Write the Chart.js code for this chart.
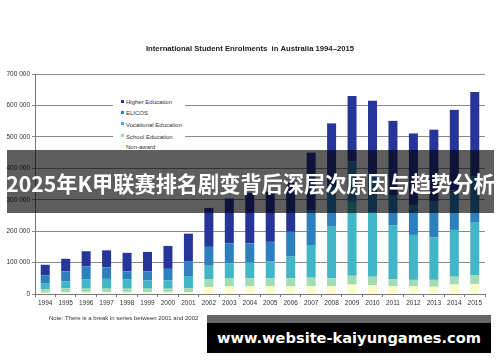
<!DOCTYPE html>
<html><head><meta charset="utf-8">
<script src="https://cdn.jsdelivr.net/npm/chart.js@4.4.1/dist/chart.umd.min.js"></script>
<style>
html,body{margin:0;padding:0;background:#fff;}
#wrap{position:relative;width:500px;height:362px;overflow:hidden;background:#fff;}
#c{position:absolute;left:0;top:0;}
#legend{position:absolute;left:113px;top:95px;width:72px;height:58px;background:#fff;font-family:"Liberation Sans",Arial,sans-serif;font-size:6px;color:#333;}
#legend .it{position:absolute;left:8px;height:8px;line-height:8px;white-space:nowrap;}
#legend .mk{display:inline-block;width:3px;height:3px;margin-right:2px;vertical-align:middle;position:relative;top:-1px;}
#note{position:absolute;left:49px;top:315px;font-family:"Liberation Sans",Arial,sans-serif;font-size:6px;color:#333;white-space:nowrap;}
#band{position:absolute;left:7px;top:150px;width:487px;height:63px;background:rgba(0,0,0,0.63);}
#bandtxt{position:absolute;left:0;top:150px;width:501px;height:66px;line-height:66px;text-align:center;color:#fff;font-family:"Noto Sans CJK SC",sans-serif;font-weight:bold;font-size:21.2px;white-space:nowrap;}
#urlgrey{position:absolute;left:207px;top:315px;width:284px;height:8px;background:#666;}
#url{position:absolute;left:207px;top:323px;width:284px;height:30px;background:#000;color:#fff;font-family:"DejaVu Sans",sans-serif;font-weight:bold;font-size:14.6px;line-height:30px;text-align:center;white-space:nowrap;}
</style></head>
<body><div id="wrap">
<canvas id="c" width="500" height="362"></canvas>
<div id="legend"></div>
<div id="note">Note: There is a break in series between 2001 and 2002</div>
<div id="band"></div>
<div id="bandtxt">2025年K甲联赛排名剧变背后深层次原因与趋势分析</div>
<div id="urlgrey"></div>
<div id="url">www.website-kaiyungames.com</div>
</div>
<script>
const years = ['1994','1995','1996','1997','1998','1999','2000','2001','2002','2003','2004','2005','2006','2007','2008','2009','2010','2011','2012','2013','2014','2015'];
// values in thousands of enrolments
const nonAward   = [4,5,5,5,5,5,5,5,22,24,24,24,24,25,25,30,28,25,24,23,30,32];
const school     = [12,13,12,12,12,12,12,13,25,27,26,26,26,27,25,28,27,22,21,22,25,28];
const vocational = [17,22,29,31,29,26,26,37,43,47,50,53,69,104,164,235,205,172,143,135,149,167];
const elicos     = [26,32,42,37,26,29,37,48,60,63,61,63,79,111,127,130,116,96,95,114,126,147];
const higher     = [34,40,48,54,59,62,73,89,124,143,161,159,157,183,202,207,239,236,228,229,256,269];
const yTickLabels = ['0','100 000','200 000','300 000','400 000','500 000','600 000','700 000'];
const seriesNames = ['Non-award','School Education','Vocational Education','ELICOS','Higher Education'];
const seriesColors = ['#fdfdc9','#a3dbb5','#41b6c6','#2d80bd','#26359a'];
const title = 'International Student Enrolments  in Australia 1994\u20132015';
const seriesData = [nonAward, school, vocational, elicos, higher];

const FONT = '"Liberation Sans", Arial, sans-serif';
new Chart(document.getElementById('c'), {
  type: 'bar',
  data: {
    labels: years,
    datasets: seriesData.map((d, i) => ({
      label: seriesNames[i], data: d, backgroundColor: seriesColors[i],
      borderWidth: 0, barPercentage: 0.44, categoryPercentage: 1
    }))
  },
  options: {
    responsive: false, animation: false, devicePixelRatio: 1,
    layout: { padding: { top: 0, left: 0, right: 0, bottom: 0 }, autoPadding: false },
    plugins: {
      legend: { display: false }, tooltip: { enabled: false },
      title: { display: true, text: title, color: '#222',
        font: { family: FONT, size: 7.7, weight: 'bold', lineHeight: 1.2 },
        padding: { top: 44, bottom: 20.8 } }
    },
    scales: {
      x: {
        stacked: true,
        grid: { offset: true, drawOnChartArea: false, tickLength: 3, color: '#777' },
        border: { color: '#777' },
        ticks: { font: { family: FONT, size: 6.5 }, color: '#333', maxRotation: 0, autoSkip: false, padding: 2 },
        afterFit(s) { s.height = 68; }
      },
      y: {
        stacked: true, min: 0, max: 700,
        grid: { color: '#8a8a8a', tickLength: 3 },
        border: { color: '#777' },
        ticks: { stepSize: 100, font: { family: FONT, size: 6.5 }, color: '#333', padding: 2,
          callback: (v) => yTickLabels[Math.round(v / 100)] },
        afterFit(s) { s.width = 35; }
      },
      yRight: {
        position: 'right', min: 0, max: 700, display: true,
        grid: { display: false, drawOnChartArea: false }, border: { display: false },
        ticks: { display: false },
        afterFit(s) { s.width = 15; }
      }
    }
  }
});

// legend (top to bottom: reverse stack order)
const lg = document.getElementById('legend');
const tops = [7, 18, 29.5, 41.5, 52];
for (let k = 0; k < seriesNames.length; k++) {
  const i = seriesNames.length - 1 - k;
  const it = document.createElement('div');
  it.className = 'it';
  it.style.top = (tops[k] - 4) + 'px';
  const mk = document.createElement('span');
  mk.className = 'mk'; mk.style.background = seriesColors[i];
  it.appendChild(mk);
  it.appendChild(document.createTextNode(seriesNames[i]));
  lg.appendChild(it);
}
</script>
</body></html>
